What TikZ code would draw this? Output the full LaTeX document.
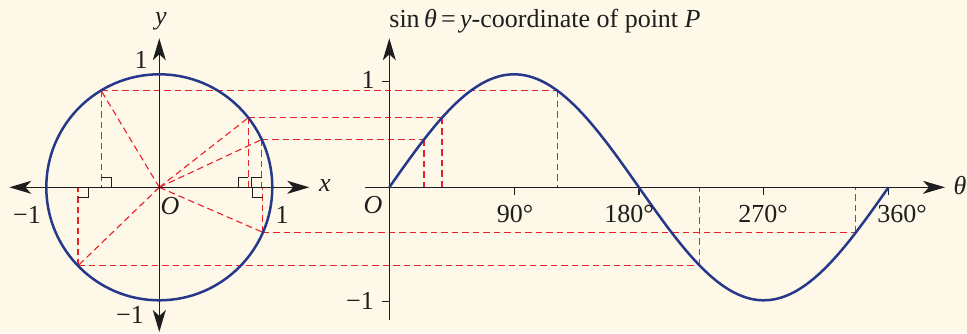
\documentclass[tikz,border=0pt]{standalone}
\usepackage{fontspec}
\setmainfont{Liberation Serif}
\usetikzlibrary{arrows.meta}
\definecolor{bg}{RGB}{253,248,232}
\definecolor{curveblue}{RGB}{38,56,140}
\definecolor{dashred}{RGB}{232,32,40}
\definecolor{ink}{RGB}{30,30,30}
\begin{document}
\begin{tikzpicture}[x=1pt,y=-1pt,
  >={Stealth[length=22pt,width=13pt,inset=6pt]},
  axis/.style={line width=1.2pt, ink},
  guide/.style={dashred, line width=1.1pt, dash pattern=on 6.5pt off 4pt},
  curve/.style={curveblue, line width=2.5pt},
  rmark/.style={line width=0.9pt, ink},
  lbl/.style={font=\fontsize{26}{30}\selectfont, inner sep=0pt, text=ink}]
\fill[bg] (0,0) rectangle (967,333);
\useasboundingbox (0,0) rectangle (967,333);
% key points
\coordinate (O) at (159.3,187.3);
\coordinate (S) at (389.3,187.3);
\foreach \n/\a in {a/25,b/38,c/121,d/224,e/336.5}{
  \coordinate (P\n) at ({159.3+113*cos(\a)},{187.3-113*sin(\a)});
  \coordinate (F\n) at ({159.3+113*cos(\a)},187.3);
  \coordinate (Q\n) at ({389.3+\a/90*124.8},{187.3-113*sin(\a)});
  \coordinate (G\n) at ({389.3+\a/90*124.8},187.3);
}
% dashed construction lines
\foreach \n in {a,b,c,d,e}{
  \draw[guide] (O) -- (P\n);
  \draw[guide] (P\n) -- (F\n);
  \draw[guide] (P\n) -- (Q\n);
  \draw[guide] (Q\n) -- (G\n);
}
% right-angle marks
\draw[rmark] (Fc) ++(0,-10) -- ++(10,0) -- ++(0,10);
\draw[rmark] (Fd) ++(0,10) -- ++(10,0) -- ++(0,-10);
\draw[rmark] (Fb) ++(0,-10) -- ++(-10,0) -- ++(0,10);
\draw[rmark] (Fa) ++(0,-10) -- ++(-10,0) -- ++(0,10);
\draw[rmark] (Fe) ++(0,10) -- ++(-10,0) -- ++(0,-10);
% circle axes
\coordinate (xl) at (9.3,187.3);
\coordinate (xr) at (309.3,187.3);
\coordinate (yt) at (159.3,38.3);
\coordinate (yb) at (159.3,332);
\draw[axis,<->] (xl) -- (xr);
\draw[axis,<->] (yb) -- (yt);
% sine axes
\coordinate (st) at (389.3,38.3);
\coordinate (sb) at (389.3,320);
\coordinate (tl) at (365,187.3);
\coordinate (tr) at (945,187.3);
\draw[axis,->] (sb) -- (st);
\draw[axis,->] (tl) -- (tr);
\draw[axis] (S) ++(0,-105.6) coordinate (one) -- ++(-7,0);
\draw[axis] (S) ++(0,114.4) coordinate (mone) -- ++(-7,0);
\foreach \d in {90,180,270,360}{
  \draw[axis] ({389.3+\d/90*124.8},187.3) -- ++(0,8);
}
% circle and sine curve
\draw[curve] (O) circle[radius=113pt];
\draw[curve] plot[domain=0:360,samples=120] ({389.3+\x/90*124.8},{187.3-113*sin(\x)});
% labels
\node[lbl] (ly) at (161,21) {\textit{y}};
\node[lbl] (l1) at (141,60) {1};
\node[lbl] (lm1) at (130,315) {−1};
\node[lbl] (lx) at (325,186) {\textit{x}};
\node[lbl] (lxm1) at (27,215) {−1};
\node[lbl] (lx1) at (282,215) {1};
\node[lbl] (lO) at (170,206) {\textit{O}};
\node[lbl,anchor=base] (title) at (545,27) {sin\,\textit{θ}\,=\,\textit{y}-coordinate of point \textit{P}};
\node[lbl] (s1) at (368,80) {1};
\node[lbl] (sm1) at (360,301) {−1};
\node[lbl] (sO) at (373,205) {\textit{O}};
\node[lbl,anchor=base] (d90) at (515,222) {90°};
\node[lbl,anchor=base] (d180) at (629,222) {180°};
\node[lbl,anchor=base] (d270) at (763,222) {270°};
\node[lbl,anchor=base] (d360) at (902,222) {360°};
\node[lbl] (lt) at (960,186) {\textit{θ}};
\end{tikzpicture}
\end{document}
